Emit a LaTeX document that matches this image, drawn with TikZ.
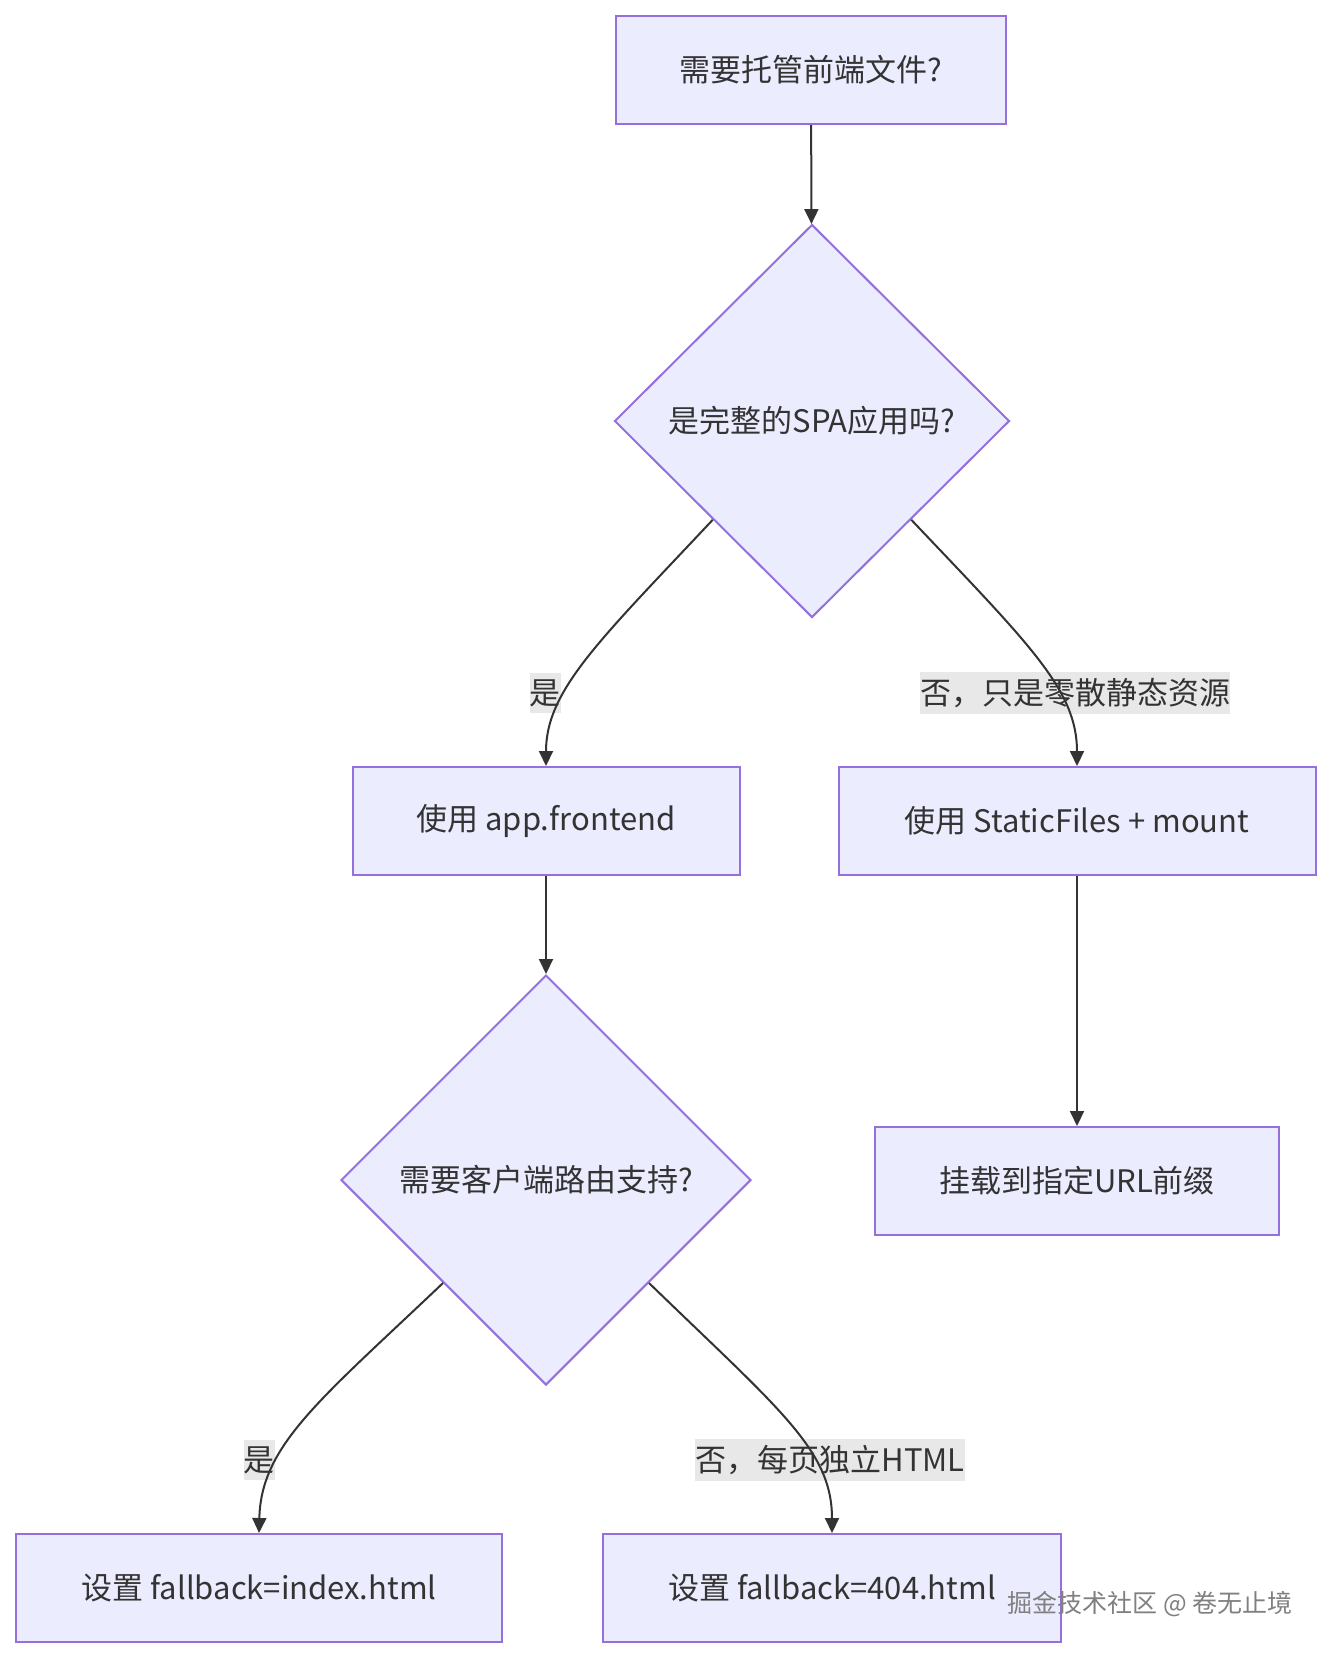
\documentclass[tikz,border=0pt]{standalone}
\usepackage{fontspec}
\setmainfont{Noto Sans CJK SC}
\usetikzlibrary{shapes.geometric,arrows.meta}
\definecolor{nodefill}{HTML}{ECECFF}
\definecolor{nodeline}{HTML}{9370DB}
\definecolor{edgeline}{HTML}{333333}
\definecolor{labelbg}{HTML}{E8E8E8}

\begin{document}
\begin{tikzpicture}[x=1pt,y=-1pt,
		every node/.style={font=\fontsize{31}{37}\selectfont,text=edgeline},
		box/.style={draw=nodeline,fill=nodefill,line width=2pt,minimum height=108pt,inner sep=0pt},
		choice/.style={shape=diamond,draw=nodeline,fill=nodefill,line width=2pt,inner sep=0pt},
		edge/.style={draw=edgeline,line width=2pt,-{Triangle[length=15pt,width=14pt]}},
		elabel/.style={fill=labelbg,inner xsep=0pt,inner ysep=6pt}]
			\useasboundingbox[fill=white] (0,0) rectangle (1331,1658);
			\node[box,minimum width=390pt] (host) at (811,70) {需要托管前端文件?};
			\node[choice,minimum width=395pt,minimum height=393pt] (spa) at (812,421) {是完整的SPA应用吗?};
			\node[box,minimum width=387pt] (frontend) at (546,821) {使用 app.frontend};
			\node[box,minimum width=477pt] (static) at (1077,821) {使用 StaticFiles + mount};
			\node[choice,minimum width=410pt,minimum height=410pt] (route) at (546,1180) {需要客户端路由支持?};
			\node[box,minimum width=404pt] (mount) at (1077,1181) {挂载到指定URL前缀};
			\node[box,minimum width=486pt] (index) at (259,1588) {设置 fallback=index.html};
			\node[box,minimum width=458pt] (notfound) at (832,1588) {设置 fallback=404.html};
			% edge labels
			\node[elabel] (yes1) at (545,693) {是};
			\node[elabel] (no1) at (1075,693) {否，只是零散静态资源};
			\node[elabel] (yes2) at (259,1460) {是};
			\node[elabel] (no2) at (830,1460) {否，每页独立HTML};
			% edges
			\draw[edge] (host) -- (spa);
			\draw[edge] (spa.south west) .. controls (600,640) and (546,690) .. (frontend.north);
			\draw[edge] (spa.south east) .. controls (1030,645) and (1077,690) .. (static.north);
			\draw[edge] (frontend) -- (route);
			\draw[edge] (static) -- (mount);
			\draw[edge] (route.south west) .. controls (320,1400) and (261,1445) .. (index.north);
			\draw[edge] (route.south east) .. controls (780,1410) and (832,1450) .. (notfound.north);
			\node[font=\fontsize{25}{29}\selectfont,text=gray] (mark) at (1150,1604) {掘金技术社区 @ 卷无止境};
		\end{tikzpicture}
\end{document}
